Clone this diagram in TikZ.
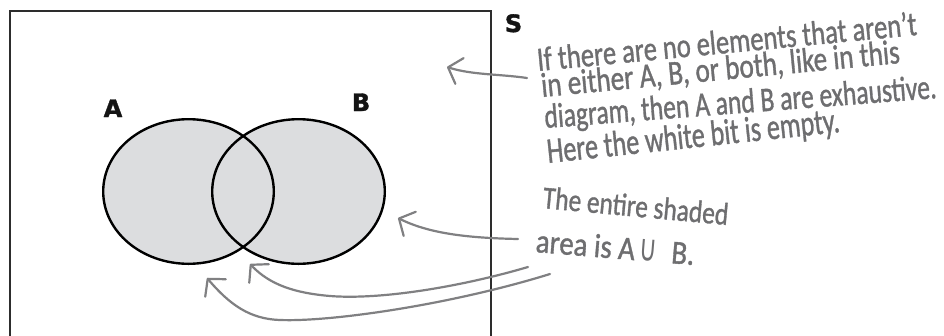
\documentclass[tikz,border=0pt]{standalone}
\usepackage{fontspec}
\usepackage{graphicx}
\usetikzlibrary{arrows.meta}
\newfontfamily\handfont{Carlito}[FakeBold=1.2]
\newfontfamily\labelfont{DejaVu Sans}[BoldFeatures={FakeBold=1.5}]
\newfontfamily\symfont{DejaVu Sans}
\definecolor{handgray}{RGB}{110,110,112}
\definecolor{arrowgray}{RGB}{128,128,130}
\definecolor{setfill}{RGB}{220,221,223}
\definecolor{framegray}{RGB}{45,45,45}
\newlength\capA
\tikzset{
  frame/.style={draw=framegray, line width=2pt},
  setline/.style={draw=black, line width=2.4pt},
  setlabel/.style={font=\labelfont\bfseries\fontsize{24}{24}\selectfont, inner sep=0pt, anchor=base, text=black!92},
  handline/.style={font=\handfont\fontsize{30}{30}\selectfont, text=handgray, inner sep=0pt, anchor=base west},
  pointer/.style={draw=arrowgray, line width=2.2pt, line cap=round,
    -{Straight Barb[length=12pt,width=27pt,line width=2.2pt,round]}},
}
\begin{document}
\begin{tikzpicture}[x=1pt,y=-1pt]
\clip (0,0) rectangle (944,335);
\fill[white] (0,0) rectangle (944,335);
% frame of S
\draw[frame] (9.6,345) -- (9.6,11.2) -- (491.3,11.2) -- (491.3,345);
% sets
\fill[setfill] (188.5,191.5) ellipse [x radius=85.3, y radius=72.3];
\fill[setfill] (298.5,191.5) ellipse [x radius=86.3, y radius=72.3];
\draw[setline] (188.5,191.5) ellipse [x radius=85.3, y radius=72.3];
\draw[setline] (298.5,191.5) ellipse [x radius=86.3, y radius=72.3];
% labels
\node[setlabel] (labA) at (113,117) {A};
\node[setlabel] (labB) at (361,111) {B};
\node[setlabel] (labS) at (513.5,32) {S};
% annotation 1
\node[handline, rotate=5.43] (t1) at (538,71) {\resizebox{381pt}{24pt}{If there are no elements that aren’t}};
\node[handline, rotate=5.42] (t2) at (542,97) {\resizebox{360pt}{24pt}{in either A, B, or both, like in this}};
\node[handline, rotate=4.37] (t3) at (545,128) {\resizebox{393pt}{24pt}{diagram, then A and B are exhaustive.}};
\node[handline, rotate=6.06] (t4) at (548,163) {\resizebox{294pt}{25pt}{Here the white bit is empty.}};
% annotation 2
\node[handline, rotate=-5.25] (t5) at (542,208) {\resizebox{186pt}{22pt}{The entire shaded}};
\node[handline, rotate=-4.7] (t6) at (535,252) {\setlength\capA{\fontcharht\font`A}\resizebox{159pt}{23pt}{area is A\hspace{0.15em}\resizebox{0.62em}{\capA}{\symfont ∪}\hspace{0.5em}B.}};
% pointers
\coordinate (a1s) at (527,78);
\coordinate (a1t) at (447,67);
\coordinate (a2s) at (518,239);
\coordinate (a2t) at (398,218);
\coordinate (a3s) at (528,267);
\coordinate (a3t) at (250,264);
\coordinate (a4s) at (550,274);
\coordinate (a4t) at (207,278);
\draw[pointer] (a1s) .. controls (500,74) and (472,75) .. (a1t);
\draw[pointer] (a2s) .. controls (470,238) and (430,234) .. (a2t);
\draw[pointer] (a3s) .. controls (460,287) and (380,300) .. (330,296) .. controls (295,293) and (270,285) .. (a3t);
\draw[pointer] (a4s) .. controls (450,305) and (330,322) .. (280,320) .. controls (250,319) and (230,305) .. (a4t);
\end{tikzpicture}
\end{document}
